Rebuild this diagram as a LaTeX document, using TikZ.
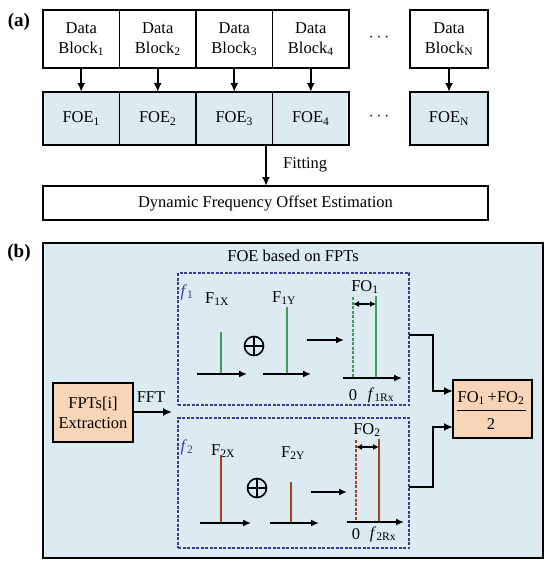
\documentclass[tikz,border=0pt]{standalone}
\usepackage{fontspec}
\setmainfont{Liberation Serif}
\usetikzlibrary{arrows.meta}
\definecolor{lblue}{HTML}{DCEAF1}
\definecolor{peach}{HTML}{F8D5B6}
\definecolor{dashc}{HTML}{3E3A9A}
\definecolor{sgreen}{HTML}{3E9E58}
\definecolor{sred}{HTML}{A0401E}
\newcommand{\fsz}{\fontsize{16.5}{20}\selectfont}
\tikzset{
  blk/.style={draw=black, line width=1.8pt, inner sep=0pt, outer sep=0pt, align=center, font=\fsz},
  datab/.style={blk, fill=white, minimum width=76.5pt, minimum height=58pt},
  foeb/.style={blk, fill=lblue, minimum width=76.5pt, minimum height=53pt},
  arr/.style={line width=1.8pt, -{Latex[length=9pt,width=8pt]}},
  sarr/.style={line width=1.6pt, -{Latex[length=8pt,width=7pt]}},
  darr/.style={line width=1.5pt, {Latex[length=6pt,width=6pt]}-{Latex[length=6pt,width=6pt]}},
  dbox/.style={draw=dashc, line width=1.5pt, dash pattern=on 3pt off 1.5pt, minimum width=231pt, inner sep=0pt, outer sep=0pt},
  lab/.style={font=\fsz, inner sep=0pt},
  stickg/.style={draw=sgreen, line width=2pt},
  stickr/.style={draw=sred, line width=2pt},
  oplusc/.style={circle, draw=black, line width=1.6pt, minimum size=19pt, inner sep=0pt,
    path picture={\draw[line width=1.6pt] (path picture bounding box.north) -- (path picture bounding box.south)
      (path picture bounding box.west) -- (path picture bounding box.east);}},
}
\begin{document}
\begin{tikzpicture}[x=1pt,y=-1pt]
\useasboundingbox (0,0) rectangle (550,565);
% ---------- (a) ----------
\node[font=\fontsize{19}{22}\selectfont\bfseries, inner sep=0pt] (la) at (19,22) {(a)};
\node[datab] (d1) at (81.25,39) {Data\\Block\textsubscript{1}};
\node[datab] (d2) at (157.75,39) {Data\\Block\textsubscript{2}};
\node[datab] (d3) at (234.25,39) {Data\\Block\textsubscript{3}};
\node[datab] (d4) at (310.75,39) {Data\\Block\textsubscript{4}};
\node[datab, minimum width=78pt] (dN) at (449,39) {Data\\Block\textsubscript{N}};
\node[foeb] (f1) at (81.25,118.5) {FOE\textsubscript{1}};
\node[foeb] (f2) at (157.75,118.5) {FOE\textsubscript{2}};
\node[foeb] (f3) at (234.25,118.5) {FOE\textsubscript{3}};
\node[foeb] (f4) at (310.75,118.5) {FOE\textsubscript{4}};
\node[foeb, minimum width=78pt] (fN) at (449,118.5) {FOE\textsubscript{N}};
\node[lab, font=\fontsize{19}{20}\selectfont] (dots1) at (379,38) {$\cdots$};
\node[lab, font=\fontsize{19}{20}\selectfont] (dots2) at (379,117) {$\cdots$};
\foreach \i in {1,2,3,4,N} {\draw[arr] (d\i.south) -- (f\i.north);}
\node[blk, fill=white, minimum width=445pt, minimum height=34pt] (dyn) at (265.5,203) {Dynamic Frequency Offset Estimation};
\coordinate (fitTop) at (266,145);
\draw[arr] (fitTop) -- (fitTop |- dyn.north);
\node[lab, anchor=west] (fitting) at (283,165) {Fitting};
% ---------- (b) ----------
\node[font=\fontsize{19}{22}\selectfont\bfseries, inner sep=0pt] (lb) at (19,253) {(b)};
\draw[line width=1.8pt, fill=lblue] (43,243) rectangle (543,558);
\node[lab] (title) at (293,256) {FOE based on FPTs};
\node[dbox, minimum height=132pt] (box1) at (293.5,339) {};
\node[dbox, minimum height=130pt] (box2) at (293.5,483) {};
\node[blk, fill=peach, minimum width=80pt, minimum height=59pt] (ext) at (93,412.5) {FPTs[i]\\Extraction};
\coordinate (fftEnd) at (172,412);
\draw[arr] (ext.east |- fftEnd) -- (fftEnd);
\node[lab] (fft) at (151,397) {FFT};
\node[blk, fill=peach, minimum width=79pt, minimum height=58pt] (res) at (492.5,409) {};
\node[lab] (num) at (491,398) {FO\textsubscript{1}\,+FO\textsubscript{2}};
\draw[line width=1.3pt] (457,410.5) -- (526,410.5);
\node[lab] (den) at (491,424) {2};
\draw[arr] (box1.east |- 0,335) -- (433,335) |- ([yshift=18pt]res.west);
\draw[arr] (box2.east |- 0,487) -- (433,487) |- ([yshift=-18pt]res.west);
% box 1 contents
\node[lab, text=dashc] (f1l) at (187,292) {\textit{f}\textsubscript{1}};
\node[lab] (F1X) at (217,299) {F\textsubscript{1X}};
\draw[stickg] (221,332) -- (221,374);
\draw[sarr] (197,374) -- (247,374);
\node[oplusc] (op1) at (254,346) {};
\node[lab] (F1Y) at (284,298) {F\textsubscript{1Y}};
\draw[stickg] (287,307) -- (287,374);
\draw[sarr] (263,374) -- (311,374);
\draw[sarr] (307,340) -- (344,340);
\draw[stickg, line width=1.6pt, dash pattern=on 3pt off 1.5pt] (353,297) -- (353,378);
\draw[stickg] (376,296) -- (376,378);
\draw[sarr] (343,378) -- (402,378);
\draw[darr] (353,304) -- (376,304);
\node[lab] (FO1) at (365,287) {FO\textsubscript{1}};
\node[lab] (z1) at (353,395) {0};
\node[lab] (fr1) at (381,395) {\textit{f}\textsubscript{1Rx}};
% box 2 contents
\node[lab, text=dashc] (f2l) at (187,447) {\textit{f}\textsubscript{2}};
\node[lab] (F2X) at (223,451) {F\textsubscript{2X}};
\draw[stickr] (221,455) -- (221,523);
\draw[sarr] (200,523) -- (251,523);
\node[oplusc] (op2) at (257,488) {};
\node[lab] (F2Y) at (293,453) {F\textsubscript{2Y}};
\draw[stickr] (291,482) -- (291,523);
\draw[sarr] (270,523) -- (319,523);
\draw[sarr] (311,492) -- (347,492);
\draw[stickr, line width=1.6pt, dash pattern=on 3pt off 1.5pt] (356,440) -- (356,522);
\draw[stickr] (379,439) -- (379,522);
\draw[sarr] (347,522) -- (404,522);
\draw[darr] (356,447) -- (379,447);
\node[lab] (FO2) at (367,430) {FO\textsubscript{2}};
\node[lab] (z2) at (356,534) {0};
\node[lab] (fr2) at (383,534) {\textit{f}\textsubscript{2Rx}};
\end{tikzpicture}
\end{document}
